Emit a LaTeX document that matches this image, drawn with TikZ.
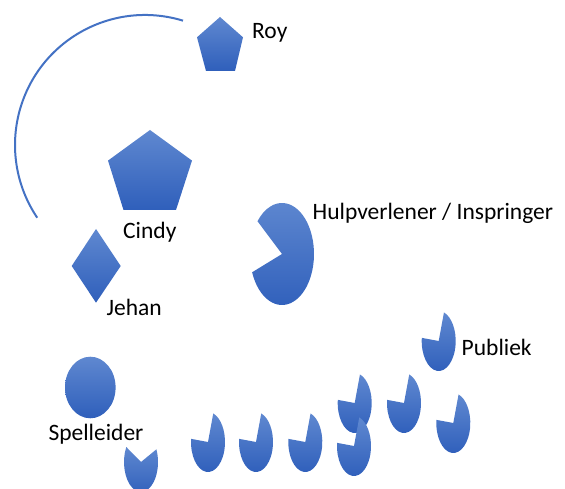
\documentclass[tikz,border=0pt]{standalone}
\usepackage{fontspec}
\setmainfont{Carlito}
\definecolor{shapetop}{RGB}{95,136,208}
\definecolor{shapebot}{RGB}{47,95,187}
\definecolor{arcblue}{RGB}{68,114,196}
\newcommand\pacman[6]{%
  \path[shapefill] (#1,-#2) -- ++(#5:#3 and #4)
    arc[start angle=#5, end angle=#6, x radius=#3, y radius=#4] -- cycle;}
\begin{document}
\begin{tikzpicture}[x=1pt,y=1pt,
  shapefill/.style={top color=shapetop, bottom color=shapebot},
  lbl/.style={anchor=base west, inner sep=0pt, font=\fontsize{23.5}{28}\selectfont}]
\useasboundingbox (0,0) rectangle (565,-489);
% arc
\draw[arcblue, line width=2pt] (145,-145) ++(73:130) arc[start angle=73, end angle=214, radius=130];
% Roy pentagon
\path[shapefill] (220,-17) -- (243,-37.3) -- (235,-71) -- (206,-71) -- (197,-37.3) -- cycle;
% Cindy pentagon
\path[shapefill] (150,-130) -- (192,-160.6) -- (176,-210) -- (123.5,-210) -- (108,-160.6) -- cycle;
% Jehan diamond
\path[shapefill] (96,-229) -- (120.7,-266) -- (96,-302.7) -- (71.7,-266) -- cycle;
% Spelleider circle
\path[shapefill] (90.3,-387.5) ellipse[x radius=25.3, y radius=30.8];
% Hulpverlener pacman
\pacman{282}{254}{32}{51}{201}{500}
% audience
\pacman{141}{462}{17}{30}{150}{385}
\pacman{208}{442}{17}{30}{174}{432}
\pacman{256}{442}{17}{30}{174}{432}
\pacman{305.3}{442}{17}{30}{174}{432}
\pacman{354.7}{403}{17}{30}{174}{432}
\pacman{354}{446}{17}{30}{174}{432}
\pacman{404}{403}{17}{30}{174}{432}
\pacman{453.3}{423}{17}{30}{174}{432}
\pacman{438.7}{341}{17}{30}{174}{432}
% labels
\node[lbl] (roy) at (252,-39) {Roy};
\node[lbl] (cindy) at (123,-239) {Cindy};
\node[lbl] (hulp) at (312.5,-220) {Hulpverlener / Inspringer};
\node[lbl] (jehan) at (106.5,-315) {Jehan};
\node[lbl] (publiek) at (461.5,-355) {Publiek};
\node[lbl] (spel) at (48.3,-440) {Spelleider};
\end{tikzpicture}
\end{document}
